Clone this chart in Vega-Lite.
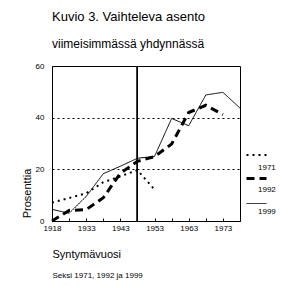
{
  "$schema": "https://vega.github.io/schema/vega-lite/v6.json",
  "autosize": "none",
  "width": 188,
  "height": 155,
  "padding": {"left": 52, "top": 66, "right": 48, "bottom": 67},
  "background": "white",
  "title": {
    "text": "Kuvio 3. Vaihteleva asento",
    "subtitle": "viimeisimmässä yhdynnässä",
    "anchor": "start",
    "frame": "group",
    "font": "Liberation Sans",
    "fontSize": 13,
    "fontWeight": "normal",
    "color": "black",
    "subtitleFont": "Liberation Sans",
    "subtitleFontSize": 12,
    "subtitleColor": "black",
    "subtitlePadding": 15,
    "offset": 12
  },
  "config": {
    "view": {"stroke": "black", "strokeWidth": 1},
    "axis": {"labelFont": "Liberation Sans", "labelFontSize": 8, "labelColor": "black", "titleColor": "black"}
  },
  "data": {
    "values": [
      {"syntymavuosi": "1918", "vuosi": "1971", "prosenttia": 7.1},
      {"syntymavuosi": "1928", "vuosi": "1971", "prosenttia": 8.9},
      {"syntymavuosi": "1933", "vuosi": "1971", "prosenttia": 10.7},
      {"syntymavuosi": "1938", "vuosi": "1971", "prosenttia": 15},
      {"syntymavuosi": "1943", "vuosi": "1971", "prosenttia": 17.3},
      {"syntymavuosi": "1948", "vuosi": "1971", "prosenttia": 19.7},
      {"syntymavuosi": "1953", "vuosi": "1971", "prosenttia": 12.2},
      {"syntymavuosi": "1918", "vuosi": "1992", "prosenttia": 0},
      {"syntymavuosi": "1928", "vuosi": "1992", "prosenttia": 4.1},
      {"syntymavuosi": "1933", "vuosi": "1992", "prosenttia": 4.4},
      {"syntymavuosi": "1938", "vuosi": "1992", "prosenttia": 9},
      {"syntymavuosi": "1943", "vuosi": "1992", "prosenttia": 18.5},
      {"syntymavuosi": "1948", "vuosi": "1992", "prosenttia": 23.1},
      {"syntymavuosi": "1953", "vuosi": "1992", "prosenttia": 24.9},
      {"syntymavuosi": "1958", "vuosi": "1992", "prosenttia": 29.8},
      {"syntymavuosi": "1963", "vuosi": "1992", "prosenttia": 42},
      {"syntymavuosi": "1968", "vuosi": "1992", "prosenttia": 44.8},
      {"syntymavuosi": "1973", "vuosi": "1992", "prosenttia": 41.2},
      {"syntymavuosi": "1918", "vuosi": "1999", "prosenttia": 4.5},
      {"syntymavuosi": "1928", "vuosi": "1999", "prosenttia": 3},
      {"syntymavuosi": "1933", "vuosi": "1999", "prosenttia": 9.5},
      {"syntymavuosi": "1938", "vuosi": "1999", "prosenttia": 18.3},
      {"syntymavuosi": "1943", "vuosi": "1999", "prosenttia": 21.2},
      {"syntymavuosi": "1948", "vuosi": "1999", "prosenttia": 24.3},
      {"syntymavuosi": "1953", "vuosi": "1999", "prosenttia": 25},
      {"syntymavuosi": "1958", "vuosi": "1999", "prosenttia": 39.7},
      {"syntymavuosi": "1963", "vuosi": "1999", "prosenttia": 36.9},
      {"syntymavuosi": "1968", "vuosi": "1999", "prosenttia": 48.8},
      {"syntymavuosi": "1973", "vuosi": "1999", "prosenttia": 49.8},
      {"syntymavuosi": "1978", "vuosi": "1999", "prosenttia": 43.7}
    ]
  },
  "layer": [
    {
      "mark": {"type": "line", "color": "black", "strokeCap": "butt"},
      "encoding": {
        "x": {
          "field": "syntymavuosi",
          "type": "ordinal",
          "sort": null,
          "scale": {"type": "point", "padding": 0},
          "axis": {
            "title": "Syntymävuosi",
            "titleFont": "Liberation Sans",
            "titleFontSize": 11,
            "titleFontWeight": "normal",
            "titleAnchor": "start",
            "titleAlign": "left",
            "titleBaseline": "alphabetic",
            "titleX": 0,
            "titleY": 36,
            "labelAngle": 0,
            "labelExpr": "indexof(['1918','1933','1943','1953','1963','1973'], datum.value) >= 0 ? datum.value : ''",
            "domain": false,
            "tickColor": "black",
            "tickSize": -3,
            "labelPadding": 6,
            "grid": false
          }
        },
        "y": {
          "field": "prosenttia",
          "type": "quantitative",
          "scale": {"domain": [0, 60], "nice": false},
          "axis": {
            "title": "Prosenttia",
            "titleFont": "Liberation Sans",
            "titleFontSize": 11,
            "titleFontWeight": "normal",
            "titleAngle": -90,
            "titleAlign": "center",
            "titleBaseline": "middle",
            "titleX": -25,
            "titleY": 127,
            "values": [0, 20, 40, 60],
            "ticks": false,
            "domain": false,
            "labelPadding": 8,
            "grid": true,
            "gridColor": "black",
            "gridDash": [2, 3],
            "gridOpacity": 1
          }
        },
        "strokeDash": {
          "field": "vuosi",
          "type": "nominal",
          "scale": {"domain": ["1971", "1992", "1999"], "range": [[2, 4], [8, 5], [1, 0]]},
          "legend": {
            "title": null,
            "orient": "none",
            "legendX": 193,
            "legendY": 78,
            "symbolType": "stroke",
            "symbolSize": 400,
            "symbolStrokeColor": "black",
            "labelExpr": "''",
            "labelFontSize": 8,
            "rowPadding": 8,
            "padding": 0
          }
        },
        "strokeWidth": {
          "field": "vuosi",
          "type": "nominal",
          "scale": {"type": "ordinal", "domain": ["1971", "1992", "1999"], "range": [2, 3, 1]}
        },
        "opacity": {
          "field": "vuosi",
          "type": "ordinal",
          "scale": {"range": [1, 1, 1]},
          "legend": {
            "title": null,
            "orient": "none",
            "legendX": 193,
            "legendY": 92,
            "symbolType": "stroke",
            "symbolSize": 400,
            "symbolStrokeWidth": 0,
            "symbolStrokeColor": "transparent",
            "labelFont": "Liberation Sans",
            "labelFontSize": 8,
            "labelColor": "black",
            "labelOffset": -7,
            "rowPadding": 8,
            "padding": 0
          }
        }
      }
    },
    {
      "mark": {"type": "rule", "color": "black", "strokeWidth": 1},
      "encoding": {
        "x": {
          "datum": "1948",
          "type": "ordinal",
          "axis": {
            "orient": "bottom",
            "title": "Seksi 1971, 1992 ja 1999",
            "titleFont": "Liberation Sans",
            "titleFontSize": 8,
            "titleFontWeight": "normal",
            "titleAnchor": "start",
            "titleAlign": "left",
            "titleBaseline": "alphabetic",
            "titleX": 0,
            "titleY": 56,
            "labels": false,
            "ticks": false,
            "domain": false,
            "grid": false
          }
        }
      }
    }
  ],
  "resolve": {"axis": {"x": "independent"}}
}
